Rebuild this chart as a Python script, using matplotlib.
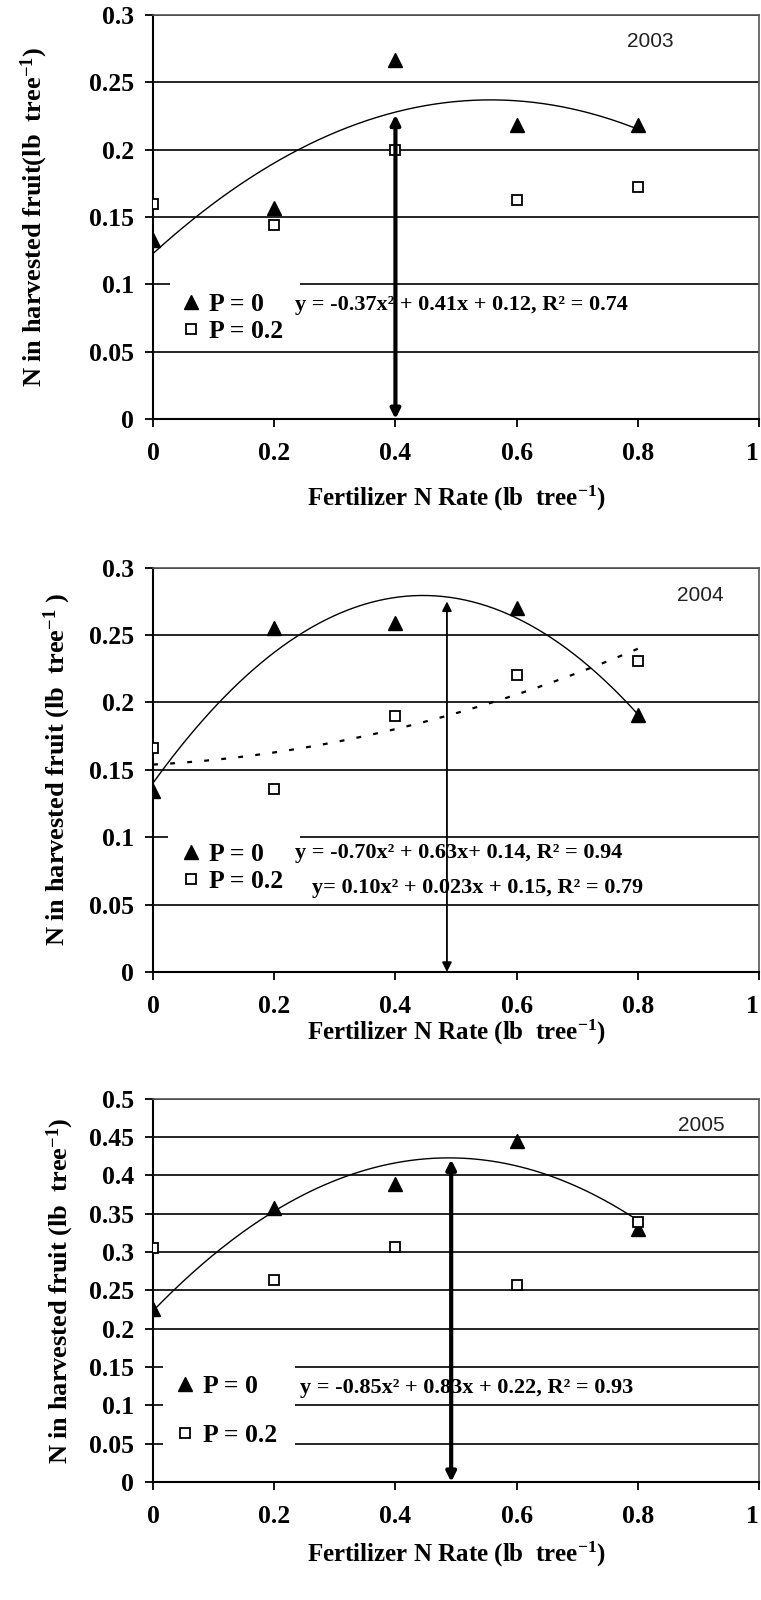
import numpy as np
import matplotlib.pyplot as plt
from matplotlib.patches import Rectangle

plt.rcParams['font.family'] = ['Liberation Serif', 'DejaVu Serif']
plt.rcParams['font.weight'] = 'bold'
plt.rcParams['axes.labelweight'] = 'bold'
plt.rcParams['mathtext.fontset'] = 'custom'
plt.rcParams['mathtext.rm'] = 'Liberation Serif:bold'
plt.rcParams['mathtext.it'] = 'Liberation Serif:bold'
plt.rcParams['mathtext.bf'] = 'Liberation Serif:bold'

# fertilizer N rate (lb/tree)
rates = [0, 0.2, 0.4, 0.6, 0.8]
x_ticks = [0, 0.2, 0.4, 0.6, 0.8, 1]
x_ticklabels = ['0', '0.2', '0.4', '0.6', '0.8', '1']

# 2003
p0_2003 = [0.133, 0.157, 0.2665, 0.218, 0.218]
p02_2003 = [0.160, 0.144, 0.1997, 0.1626, 0.172]
# 2004
p0_2004 = [0.1345, 0.255, 0.259, 0.270, 0.1907]
p02_2004 = [0.166, 0.1355, 0.190, 0.2203, 0.231]
# 2005
p0_2005 = [0.226, 0.357, 0.389, 0.4455, 0.3295]
p02_2005 = [0.3047, 0.264, 0.307, 0.257, 0.339]

y_ticks_03 = [0, 0.05, 0.1, 0.15, 0.2, 0.25, 0.3]
y_ticklabels_03 = ['0', '0.05', '0.1', '0.15', '0.2', '0.25', '0.3']
y_ticks_05 = [0, 0.05, 0.1, 0.15, 0.2, 0.25, 0.3, 0.35, 0.4, 0.45, 0.5]
y_ticklabels_05 = ['0', '0.05', '0.1', '0.15', '0.2', '0.25', '0.3', '0.35',
                   '0.4', '0.45', '0.5']

years = ['2003', '2004', '2005']
# optimum N rate arrows: x and top value
arrow_x = [0.4, 0.485, 0.492]
arrow_top = [0.226, 0.275, 0.421]

eq_2003 = ['y = -0.37x² + 0.41x + 0.12, R² = 0.74']
eq_2004 = ['y = -0.70x² + 0.63x+ 0.14, R² = 0.94',
           'y= 0.10x² + 0.023x + 0.15, R² = 0.79']
eq_2005 = ['y = -0.85x² + 0.83x + 0.22, R² = 0.93']

fig = plt.figure(figsize=(7.61, 16), dpi=100)

panels = [
    dict(pos=[0.2011, 0.7381, 0.7963, 0.2525], p0=p0_2003, p02=p02_2003,
         fit02=False, yt=y_ticks_03, ytl=y_ticklabels_03, ymax=0.3,
         ylabel='N in harvested fruit(lb  tree$^{-1}$)', ylab_x=-0.17, xlab_y=-0.16,
         year_xy=(0.82, 0.2806), eqs=eq_2003, eq_xy=[(0.234, 0.0846)],
         leg_y=0.25, leg_x=0.045, box=(0.028, 0.183, 0.215, 0.161), arrow_lw=3.0,
         legsp=0.15),
    dict(pos=[0.2011, 0.3925, 0.7963, 0.2527], p0=p0_2004, p02=p02_2004,
         fit02=True, yt=y_ticks_03, ytl=y_ticklabels_03, ymax=0.3,
         ylabel='N in harvested fruit (lb  tree$^{-1}$ )', ylab_x=-0.132, xlab_y=-0.113,
         year_xy=(0.903, 0.279), eqs=eq_2004, eq_xy=[(0.234, 0.0883), (0.262, 0.0623)],
         leg_y=0.257, leg_x=0.045, box=(0.025, 0.178, 0.218, 0.173), arrow_lw=1.3,
         legsp=0.15),
    dict(pos=[0.2011, 0.0738, 0.7963, 0.2394], p0=p0_2005, p02=p02_2005,
         fit02=False, yt=y_ticks_05, ytl=y_ticklabels_05, ymax=0.5,
         ylabel='N in harvested fruit (lb  tree$^{-1}$)', ylab_x=-0.127, xlab_y=-0.15,
         year_xy=(0.904, 0.4655), eqs=eq_2005, eq_xy=[(0.243, 0.123)],
         leg_y=0.185, leg_x=0.035, box=(0.0165, 0.08, 0.2175, 0.24), arrow_lw=3.0,
         legsp=1.0),
]

for i, p in enumerate(panels):
    ax = fig.add_axes(p['pos'])
    ax.set_axisbelow(True)
    ax.set_xlim(0, 1)
    ax.set_ylim(0, p['ymax'])
    ax.set_xticks(x_ticks)
    ax.set_xticklabels(x_ticklabels)
    ax.get_xticklabels()[-1].set_horizontalalignment('right')
    ax.set_yticks(p['yt'])
    ax.set_yticklabels(p['ytl'])
    ax.tick_params(direction='out', length=5.5, width=1.3, labelsize=18.5, pad=8)
    ax.tick_params(axis='x', pad=11)
    ax.yaxis.grid(True, color='black', lw=1.2)
    for s in ['left', 'bottom']:
        ax.spines[s].set_linewidth(1.5)
    for s in ['top', 'right']:
        ax.spines[s].set_color('#555555')
        ax.spines[s].set_linewidth(1.2)

    # white area behind legend (breaks gridlines)
    bx, by, bw, bh = p['box']
    ax.add_patch(Rectangle((bx, by), bw, bh, transform=ax.transAxes,
                           facecolor='white', edgecolor='none', zorder=0.8))

    # trend lines (quadratic fit, as in the original spreadsheet)
    xx = np.linspace(0, 0.8, 200)
    c0 = np.polyfit(rates, p['p0'], 2)
    ax.plot(xx, np.polyval(c0, xx), color='black', lw=1.0, zorder=2)
    if p['fit02']:
        c2 = np.polyfit(rates, p['p02'], 2)
        ax.plot(xx, np.polyval(c2, xx), color='black', lw=1.6,
                linestyle=(0, (2.2, 5.5)), zorder=2)

    ax.plot(rates, p['p0'], linestyle='none', marker='^', color='black',
            markersize=10.5, label='P = 0', zorder=3)
    ax.plot(rates, p['p02'], linestyle='none', marker='s', markerfacecolor='white',
            markeredgecolor='black', markeredgewidth=1.3, markersize=7.5,
            label='P = 0.2', zorder=3)

    ax.annotate('', xy=(arrow_x[i], arrow_top[i]), xytext=(arrow_x[i], 0),
                arrowprops=dict(arrowstyle='<|-|>', color='black', lw=p['arrow_lw'],
                                mutation_scale=14, shrinkA=0, shrinkB=0), zorder=4)

    leg = ax.legend(loc='center left', bbox_to_anchor=(p['leg_x'], p['leg_y']),
                    frameon=False, fontsize=18.5, handlelength=0.8, handletextpad=0.3,
                    labelspacing=p['legsp'], borderpad=0, borderaxespad=0)

    for eq, (ex, ey) in zip(p['eqs'], p['eq_xy']):
        ax.text(ex, ey, eq, fontsize=16, va='center', ha='left', zorder=3)

    ax.text(p['year_xy'][0], p['year_xy'][1], years[i], fontsize=15,
            family='Liberation Sans', fontweight='normal', color='#222222',
            ha='center', va='center')

    ax.set_ylabel(p['ylabel'], fontsize=19)
    ax.yaxis.set_label_coords(p['ylab_x'], 0.5)
    ax.set_xlabel('Fertilizer N Rate (lb  tree$^{-1}$)', fontsize=18)
    ax.xaxis.set_label_coords(0.5, p['xlab_y'])

plt.savefig('out.png', dpi=100)
